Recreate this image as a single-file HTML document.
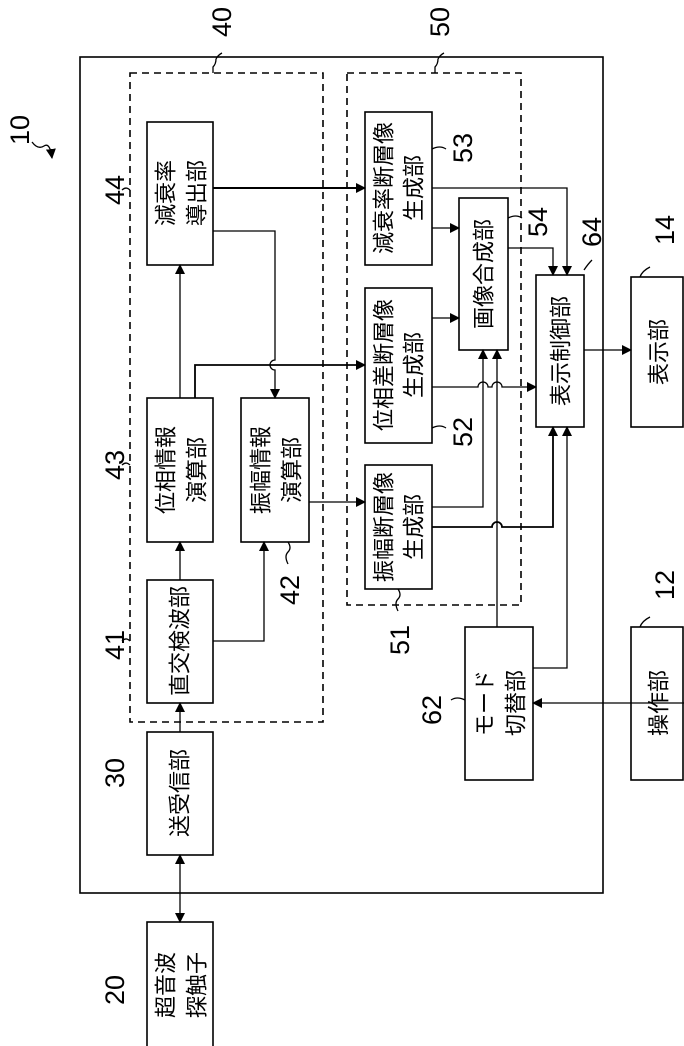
<!DOCTYPE html>
<html><head><meta charset="utf-8"><style>
html,body{margin:0;padding:0;background:#fff;}
svg{display:block;}
text{font-family:"Liberation Sans","Noto Sans CJK JP",sans-serif;fill:#000;}
.b{font-size:22px;}
.n{font-size:27px;}
</style></head><body>
<svg width="684" height="1046" viewBox="0 0 684 1046" xmlns="http://www.w3.org/2000/svg">
<defs>
<marker id="a" markerWidth="10" markerHeight="10" refX="9" refY="5" orient="auto" markerUnits="userSpaceOnUse">
<path d="M0,0 L10,5 L0,10 z" fill="#000"/></marker>
<marker id="s" markerWidth="10" markerHeight="10" refX="1" refY="5" orient="auto" markerUnits="userSpaceOnUse">
<path d="M10,0 L0,5 L10,10 z" fill="#000"/></marker>
</defs>
<g fill="none" stroke="#000" stroke-width="1.6">
<rect x="80" y="57" width="523" height="836"/>
<rect x="130" y="73" width="193" height="649" stroke-dasharray="7,5"/>
<rect x="347" y="73" width="174" height="532" stroke-dasharray="7,5"/>
<rect x="147" y="122" width="66" height="143"/>
<rect x="147" y="398" width="66" height="144"/>
<rect x="241" y="398" width="68" height="144"/>
<rect x="147" y="580" width="66" height="123"/>
<rect x="147" y="732" width="66" height="123"/>
<rect x="147" y="922" width="66" height="130"/>
<rect x="365" y="112" width="67" height="153"/>
<rect x="365" y="288" width="67" height="155"/>
<rect x="365" y="465" width="67" height="124"/>
<rect x="459" y="198" width="49" height="152"/>
<rect x="536" y="275" width="48" height="152"/>
<rect x="631" y="277" width="52" height="150"/>
<rect x="465" y="627" width="68" height="153"/>
<rect x="631" y="627" width="52" height="153"/>
</g>
<g fill="none" stroke="#000" stroke-width="1.3">
<path d="M213,188 H365" stroke-width="2" marker-end="url(#a)"/>
<path d="M213,231 H275 V360 a5,5 0 0 0 0,10 V398" marker-end="url(#a)"/>
<path d="M180,398 V265" marker-end="url(#a)"/>
<path d="M195,398 V365 H365" stroke-width="1.8" marker-end="url(#a)"/>
<path d="M180,580 V542" marker-end="url(#a)"/>
<path d="M213,641 H264 V542" marker-end="url(#a)"/>
<path d="M180,732 V703" marker-end="url(#a)"/>
<path d="M180,855 V922" marker-start="url(#s)" marker-end="url(#a)"/>
<path d="M309,502 H365" marker-end="url(#a)"/>
<path d="M432,188 H567 V275" marker-end="url(#a)"/>
<path d="M432,228 H459" marker-end="url(#a)"/>
<path d="M432,318 H459" marker-end="url(#a)"/>
<path d="M432,387 H478 a5,5 0 0 1 10,0 H492 a5,5 0 0 1 10,0 H536" marker-end="url(#a)"/>
<path d="M508,248 H553 V275" marker-end="url(#a)"/>
<path d="M432,507 H483 V350" marker-end="url(#a)"/>
<path d="M432,527 H492 a5,5 0 0 1 10,0 H553 V427" stroke-width="1.8" marker-end="url(#a)"/>
<path d="M497,627 V350" marker-end="url(#a)"/>
<path d="M533,668 H567 V427" marker-end="url(#a)"/>
<path d="M684,703 H533" marker-end="url(#a)"/>
<path d="M584,350 H631" marker-end="url(#a)"/>
<path d="M32,142 q6,8 12,4 q6,-4 8,12" marker-end="url(#a)"/>
<path d="M213,73 v-6 q3,-3 3,-8 M216,59 q2,-4 6,-6"/>
<path d="M435,73 v-6 q3,-3 3,-8 M438,59 q2,-4 6,-6"/>
<path d="M130,190 q-4,-4 -8,0"/>
<path d="M130,465 q-4,-4 -8,0"/>
<path d="M130,641 q-4,-4 -8,0"/>
<path d="M288,542 q4,6 0,10 q-4,4 0,12"/>
<path d="M432,149 q8,-4 14,0"/>
<path d="M432,428 q8,-4 14,0"/>
<path d="M508,218 q8,-4 14,0"/>
<path d="M584,270 q4,-6 8,-10"/>
<path d="M398,589 q4,6 0,10 q-4,4 0,12"/>
<path d="M465,700 q-8,-4 -14,0"/>
<path d="M640,277 q2,-6 10,-10"/>
<path d="M640,627 q2,-6 10,-10"/>
</g>
<g class="b" text-anchor="middle" dominant-baseline="central">
<text transform="translate(166,193) rotate(-90)">減衰率</text>
<text transform="translate(197,193) rotate(-90)">導出部</text>
<text transform="translate(166,470) rotate(-90)">位相情報</text>
<text transform="translate(197,470) rotate(-90)">演算部</text>
<text transform="translate(261,470) rotate(-90)">振幅情報</text>
<text transform="translate(292,470) rotate(-90)">演算部</text>
<text transform="translate(180,641) rotate(-90)">直交検波部</text>
<text transform="translate(180,793) rotate(-90)">送受信部</text>
<text transform="translate(166,985) rotate(-90)">超音波</text>
<text transform="translate(197,985) rotate(-90)">探触子</text>
<text transform="translate(384,188) rotate(-90)">減衰率断層像</text>
<text transform="translate(414,188) rotate(-90)">生成部</text>
<text transform="translate(384,365) rotate(-90)">位相差断層像</text>
<text transform="translate(414,365) rotate(-90)">生成部</text>
<text transform="translate(384,527) rotate(-90)">振幅断層像</text>
<text transform="translate(414,527) rotate(-90)">生成部</text>
<text transform="translate(484,274) rotate(-90)">画像合成部</text>
<text transform="translate(561,351) rotate(-90)">表示制御部</text>
<text transform="translate(659,352) rotate(-90)">表示部</text>
<text transform="translate(485,703) rotate(-90)">モード</text>
<text transform="translate(516,703) rotate(-90)">切替部</text>
<text transform="translate(659,703) rotate(-90)">操作部</text>
</g>
<g class="n" text-anchor="middle" dominant-baseline="central">
<text transform="translate(20,130) rotate(-90)">10</text>
<text transform="translate(222,22) rotate(-90)">40</text>
<text transform="translate(440,22) rotate(-90)">50</text>
<text transform="translate(115,190) rotate(-90)">44</text>
<text transform="translate(115,465) rotate(-90)">43</text>
<text transform="translate(115,645) rotate(-90)">41</text>
<text transform="translate(290,590) rotate(-90)">42</text>
<text transform="translate(115,773) rotate(-90)">30</text>
<text transform="translate(115,990) rotate(-90)">20</text>
<text transform="translate(463,148) rotate(-90)">53</text>
<text transform="translate(538,222) rotate(-90)">54</text>
<text transform="translate(592,232) rotate(-90)">64</text>
<text transform="translate(665,230) rotate(-90)">14</text>
<text transform="translate(463,432) rotate(-90)">52</text>
<text transform="translate(400,640) rotate(-90)">51</text>
<text transform="translate(432,710) rotate(-90)">62</text>
<text transform="translate(665,585) rotate(-90)">12</text>
</g>
</svg>
</body></html>
